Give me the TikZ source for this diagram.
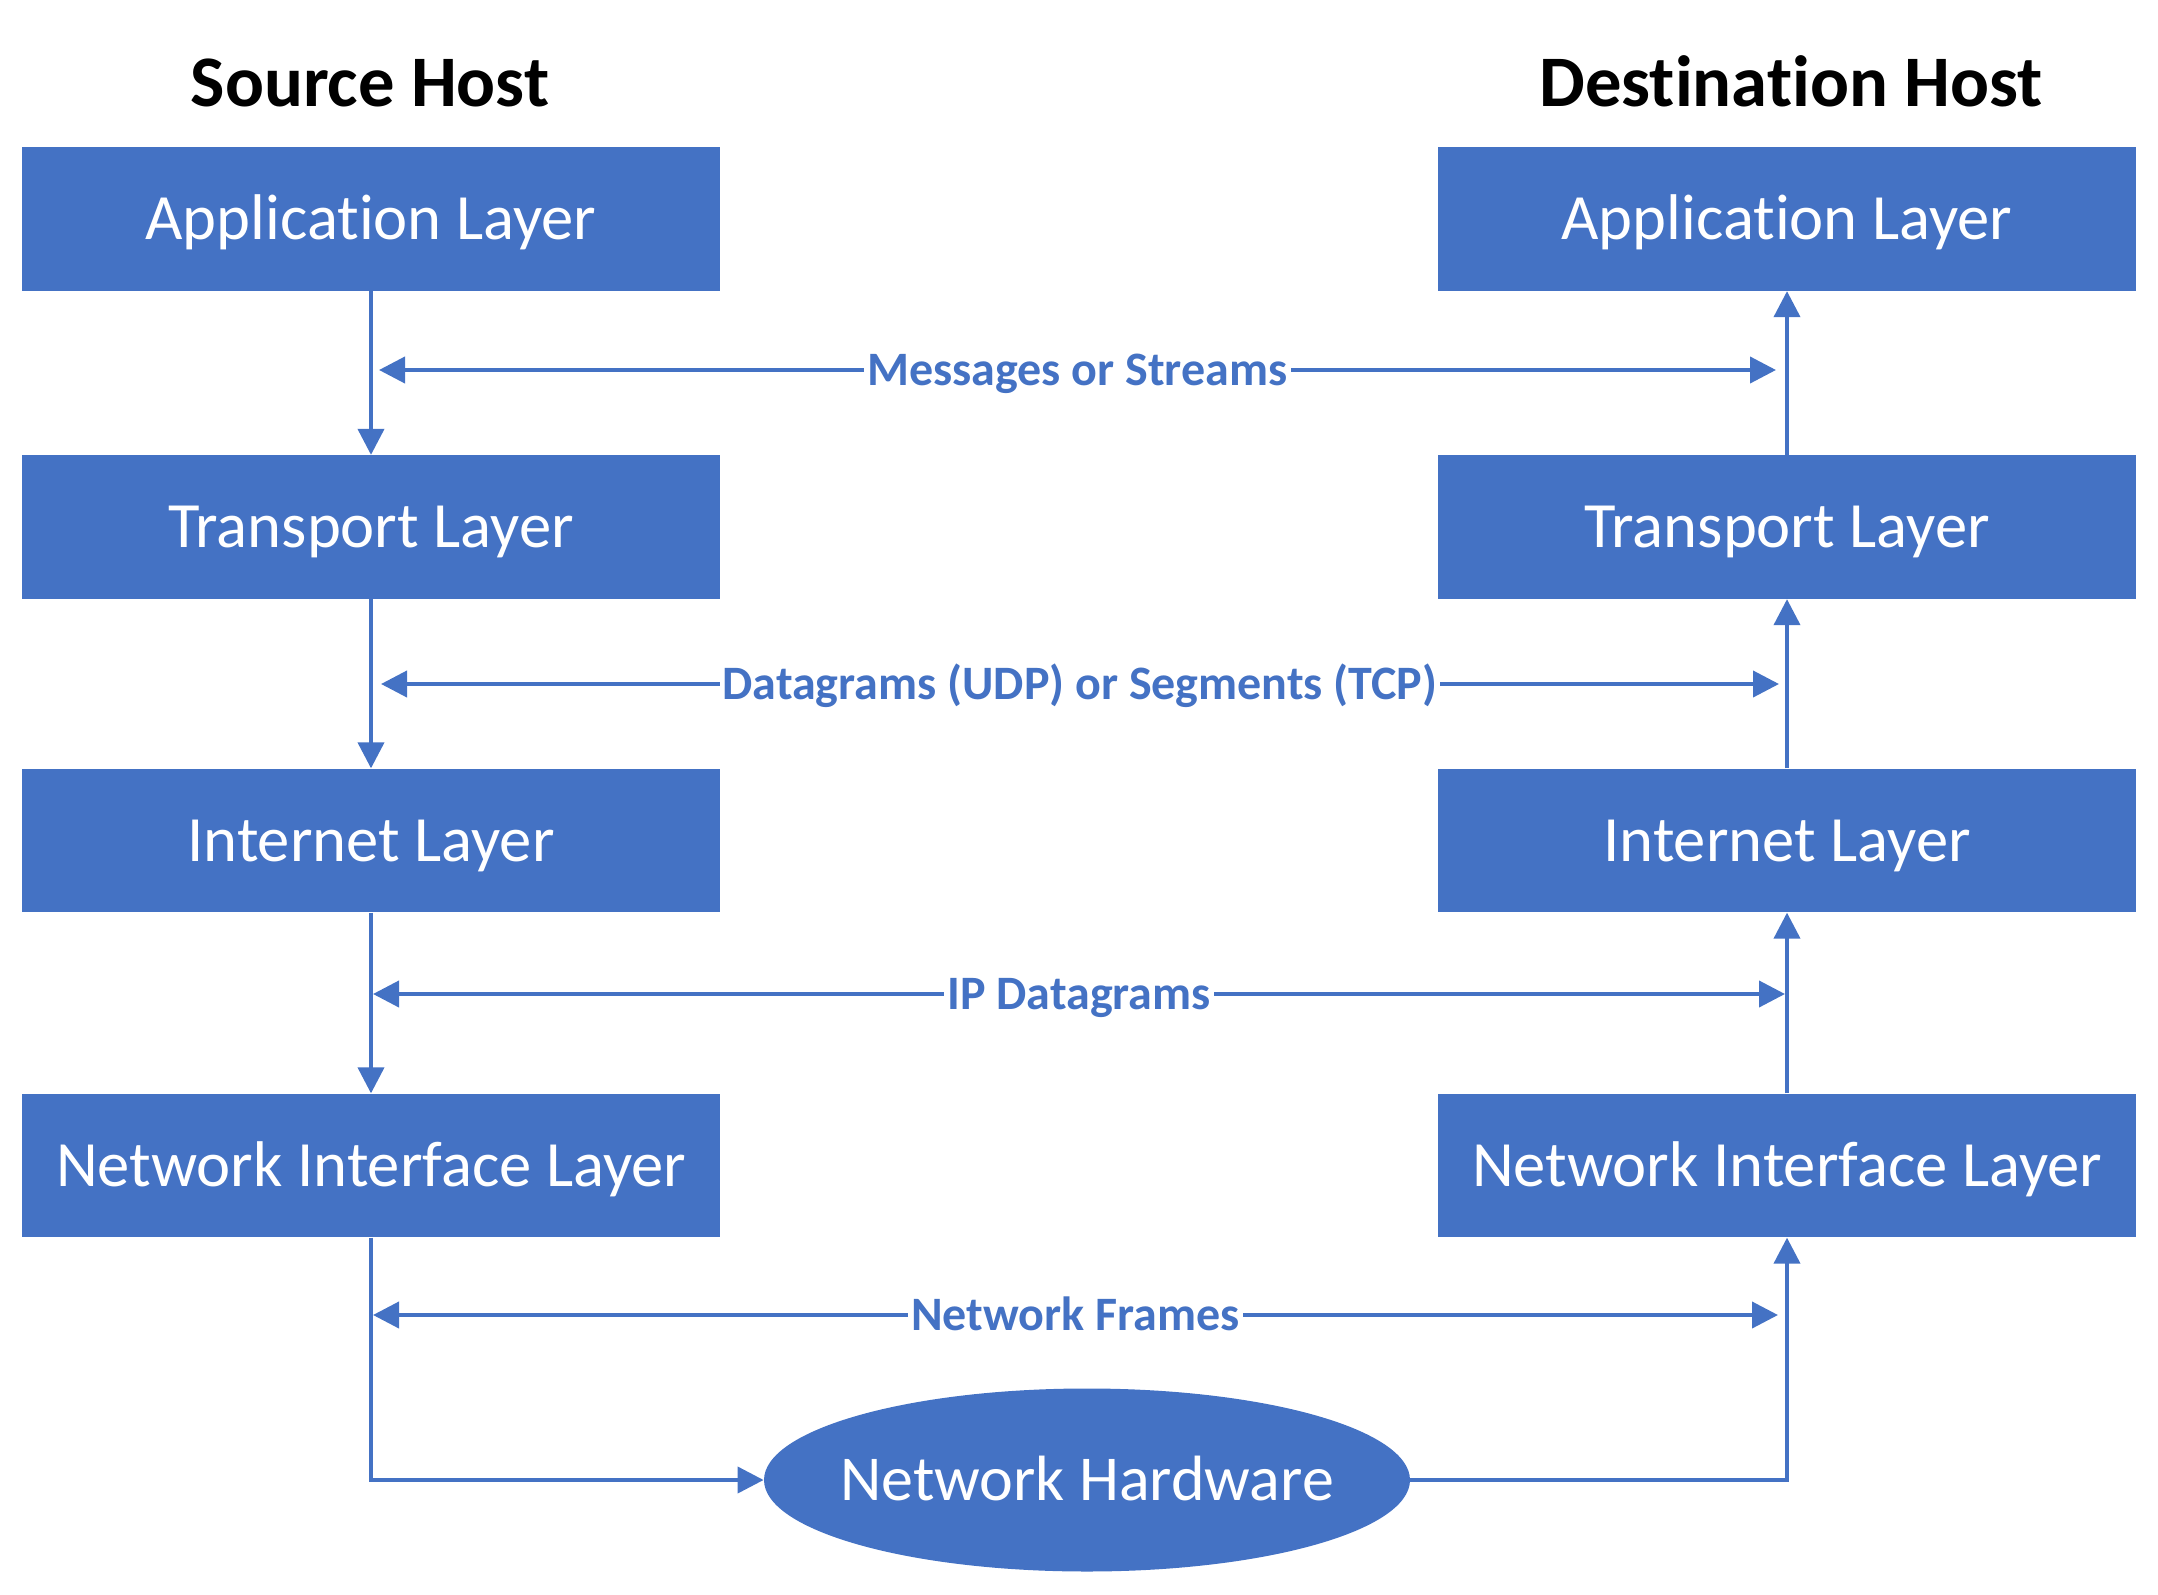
\documentclass[tikz,border=0pt]{standalone}
\usepackage{fontspec}
\setmainfont{Carlito}[Ligatures={NoCommon}]
\usetikzlibrary{arrows.meta,shapes.geometric}
\definecolor{boxblue}{HTML}{4472C4}
\begin{document}
\begin{tikzpicture}[x=0.5pt,y=-0.5pt,
  layer/.style={rectangle, fill=boxblue, minimum width=349pt, minimum height=71.75pt,
    inner sep=0pt, text=white, font=\fontsize{32.3}{38}\selectfont,
    text height=20.8pt, text depth=0pt},
  hwshape/.style={ellipse, fill=boxblue, minimum width=323pt, minimum height=91.5pt, inner sep=0pt},
  hwtext/.style={text=white, font=\fontsize{32}{38}\selectfont, text height=20.6pt, text depth=0pt, inner sep=0pt},
  title/.style={font=\fontsize{36.3}{43}\selectfont\bfseries, text=black, inner sep=0pt},
  lbl/.style={font=\fontsize{24}{29}\selectfont\bfseries, text=boxblue, fill=white,
    inner xsep=1.5pt, inner ysep=1pt, text height=15.5pt, text depth=0pt},
  con/.style={draw=boxblue, line width=2pt},
  arr/.style={con, -{Triangle[length=13pt,width=13pt]}},
  darr/.style={con, {Triangle[length=13pt,width=13pt]}-{Triangle[length=13pt,width=13pt]}}
]
\useasboundingbox (0,0) rectangle (2158,1595);

\node[title, anchor=base] (srct) at (370,107) {Source Host};
\node[title, anchor=base] (dstt) at (1791,107) {Destination Host};

\node[layer] (sa) at (371,219) {Application Layer};
\node[layer] (st) at (371,527) {Transport Layer};
\node[layer] (si) at (371,840.5) {Internet Layer};
\node[layer] (sn) at (371,1165.5) {Network Interface Layer};

\node[layer] (da) at (1787,219) {Application Layer};
\node[layer] (dt) at (1787,527) {Transport Layer};
\node[layer] (di) at (1787,840.5) {Internet Layer};
\node[layer] (dn) at (1787,1165.5) {Network Interface Layer};

\node[hwshape, label={[hwtext]center:Network Hardware}] (hw) at (1087,1480) {};

\draw[arr] (sa.south) -- (st.north);
\draw[arr] (st.south) -- (si.north);
\draw[arr] (si.south) -- (sn.north);
\draw[arr] (sn.south) |- (hw.west);
\draw[arr] (hw.east) -| (dn.south);
\draw[arr] (dn.north) -- (di.south);
\draw[arr] (di.north) -- (dt.south);
\draw[arr] (dt.north) -- (da.south);

\coordinate (m1L) at (379,370);  \coordinate (m1R) at (1776,370);
\coordinate (m2L) at (381,684);  \coordinate (m2R) at (1779,684);
\coordinate (m3L) at (373,994);  \coordinate (m3R) at (1785,994);
\coordinate (m4L) at (373,1315); \coordinate (m4R) at (1778,1315);

\draw[darr] (m1L) -- node[lbl] (l1) {Messages or Streams} (m1R);
\draw[darr] (m2L) -- node[lbl] (l2) {Datagrams (UDP) or Segments (TCP)} (m2R);
\draw[darr] (m3L) -- node[lbl] (l3) {IP Datagrams} (m3R);
\draw[darr] (m4L) -- node[lbl] (l4) {Network Frames} (m4R);
\end{tikzpicture}
\end{document}
